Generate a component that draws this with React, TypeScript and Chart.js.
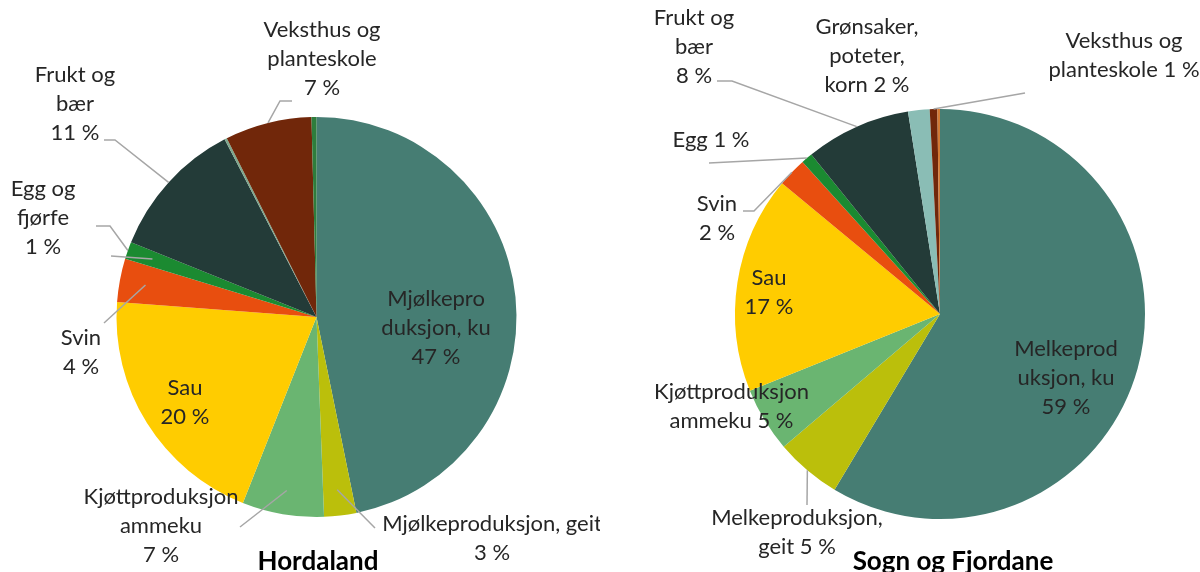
import React, { useEffect, useRef } from 'react';
import { Chart, registerables } from 'chart.js';

Chart.register(...registerables);

// ---------- Data ----------
const hordCategories = [
  'Mjølkeproduksjon, ku',
  'Mjølkeproduksjon, geit',
  'Kjøttproduksjon ammeku',
  'Sau',
  'Svin',
  'Egg og fjørfe',
  'Frukt og bær',
  'Grønsaker, poteter, korn',
  'Veksthus og planteskole',
  'Annet',
];
const hordValues = [46.8, 2.6, 6.6, 20.2, 3.5, 1.4, 11.3, 0.2, 7.0, 0.4];
const hordColors = ['#467D73', '#BBBF0B', '#6AB571', '#FFCC00', '#E84E0F', '#1B8A31', '#233B38', '#7FA88E', '#71270A', '#2E7D3C'];

const sfCategories = [
  'Melkeproduksjon, ku',
  'Melkeproduksjon, geit',
  'Kjøttproduksjon ammeku',
  'Sau',
  'Svin',
  'Egg',
  'Frukt og bær',
  'Grønsaker, poteter, korn',
  'Veksthus og planteskole',
  'Annet',
];
const sfValues = [58.6, 5.2, 5.1, 17.1, 2.3, 0.9, 8.3, 1.7, 0.6, 0.2];
const sfColors = ['#467D73', '#BBBF0B', '#6AB571', '#FFCC00', '#E84E0F', '#1B8A31', '#233B38', '#8ABDB5', '#71270A', '#D27A35'];

// label text lines per slice ({p} = rounded percentage)
const hordLabelLines = [
  ['Mjølkepro', 'duksjon, ku', '{p}'],
  ['Mjølkeproduksjon, geit', '{p}'],
  ['Kjøttproduksjon', 'ammeku', '{p}'],
  ['Sau', '{p}'],
  ['Svin', '{p}'],
  ['Egg og', 'fjørfe', '{p}'],
  ['Frukt og', 'bær', '{p}'],
  null,
  ['Veksthus og', 'planteskole', '{p}'],
  null,
];
const sfLabelLines = [
  ['Melkeprod', 'uksjon, ku', '{p}'],
  ['Melkeproduksjon,', 'geit {p}'],
  ['Kjøttproduksjon', 'ammeku {p}'],
  ['Sau', '{p}'],
  ['Svin', '{p}'],
  ['Egg {p}'],
  ['Frukt og', 'bær', '{p}'],
  ['Grønsaker,', 'poteter,', 'korn {p}'],
  ['Veksthus og', 'planteskole {p}'],
  null,
];

// ---------- Layout (label block centre offsets from pie centre, leader paths) ----------
type Leader = { pts: [number, number][]; f: number };
type LabelLayout = { dx: number; dy: number; leaders?: Leader[] } | null;

const hordLayout: LabelLayout[] = [
  { dx: 119.5, dy: 11 },
  { dx: 175.5, dy: 221, leaders: [{ pts: [[58.5, 211]], f: 0.87 }] },
  { dx: -155.5, dy: 209, leaders: [{ pts: [[-76.5, 210]], f: 0.88 }] },
  { dx: -131.5, dy: 85.5 },
  { dx: -235.5, dy: 35, leaders: [{ pts: [[-212.5, 6]], f: 0.87 }] },
  {
    dx: -273.5, dy: -99,
    leaders: [
      { pts: [[-220.5, -91], [-206.5, -91]], f: 1.0 },
      { pts: [[-205.5, -61]], f: 0.87 },
    ],
  },
  { dx: -241.5, dy: -213, leaders: [{ pts: [[-212.5, -177], [-201.5, -177]], f: 1.0 }] },
  null,
  { dx: 5.5, dy: -258, leaders: [{ pts: [[-24.5, -216], [-36.5, -216]], f: 1.0 }] },
  null,
];
const sfLayout: LabelLayout[] = [
  { dx: 126, dy: 64 },
  { dx: -143, dy: 218.5, leaders: [{ pts: [[-133, 191]], f: 1.0 }] },
  { dx: -208.5, dy: 92 },
  { dx: -171, dy: -21.5 },
  { dx: -223, dy: -96, leaders: [{ pts: [[-197, -103], [-186, -103]], f: 1.0 }] },
  { dx: -229, dy: -174, leaders: [{ pts: [[-231, -151]], f: 1.0 }] },
  { dx: -246, dy: -267, leaders: [{ pts: [[-223, -233], [-208, -233]], f: 1.0 }] },
  { dx: -73, dy: -258 },
  { dx: 184, dy: -259, leaders: [{ pts: [[85, -221]], f: 1.0 }] },
  null,
];

const LABEL_FONT = '22px Lato';
const TITLE_FONT = 'bold 26px Lato';
const LINE_H = 29;

const sliceLabelPlugin = {
  id: 'sliceLabels',
  afterDatasetsDraw(chart: any, _args: any, opts: any) {
    const { ctx } = chart;
    const meta = chart.getDatasetMeta(0);
    const values: number[] = chart.data.datasets[0].data;
    const arcs = meta.data;
    if (!arcs.length) return;
    const cx = arcs[0].x;
    const cy = arcs[0].y;
    ctx.save();
    // leaders
    ctx.strokeStyle = '#A6A6A6';
    ctx.lineWidth = 1.5;
    (opts.layout as LabelLayout[]).forEach((lay, i) => {
      if (!lay || !lay.leaders) return;
      const arc = arcs[i];
      const mid = (arc.startAngle + arc.endAngle) / 2;
      lay.leaders.forEach((ld) => {
        ctx.beginPath();
        ld.pts.forEach(([px, py], k) => {
          if (k === 0) ctx.moveTo(cx + px, cy + py);
          else ctx.lineTo(cx + px, cy + py);
        });
        ctx.lineTo(cx + Math.cos(mid) * arc.outerRadius * ld.f, cy + Math.sin(mid) * arc.outerRadius * ld.f);
        ctx.stroke();
      });
    });
    // labels
    ctx.fillStyle = '#262626';
    ctx.font = LABEL_FONT;
    ctx.textAlign = 'center';
    ctx.textBaseline = 'middle';
    (opts.layout as LabelLayout[]).forEach((lay, i) => {
      const lines = opts.lines[i];
      if (!lay || !lines) return;
      const pct = Math.round(values[i]) + ' %';
      const n = lines.length;
      lines.forEach((t: string, k: number) => {
        ctx.fillText(t.replace('{p}', pct), cx + lay.dx, cy + lay.dy + (k - (n - 1) / 2) * LINE_H);
      });
    });
    // title
    ctx.fillStyle = '#000';
    ctx.font = TITLE_FONT;
    ctx.textBaseline = 'alphabetic';
    ctx.fillText(opts.title, cx + opts.titleDx, cy + opts.titleDy);
    ctx.restore();
  },
};

function PieChart(props: {
  categories: string[];
  values: number[];
  colors: string[];
  lines: (string[] | null)[];
  layout: LabelLayout[];
  padding: { left: number; right: number; top: number; bottom: number };
  title: string;
  titleDx: number;
  titleDy: number;
  left: number;
}) {
  const ref = useRef<HTMLCanvasElement>(null);
  useEffect(() => {
    if (!ref.current) return;
    const chart = new Chart(ref.current, {
      type: 'pie',
      data: {
        labels: props.categories,
        datasets: [
          {
            data: props.values,
            backgroundColor: props.colors,
            borderWidth: 0,
          },
        ],
      },
      options: {
        animation: false,
        responsive: false,
        layout: { padding: props.padding },
        plugins: {
          legend: { display: false },
          tooltip: { enabled: false },
          // @ts-ignore
          sliceLabels: {
            layout: props.layout,
            lines: props.lines,
            title: props.title,
            titleDx: props.titleDx,
            titleDy: props.titleDy,
          },
        },
      },
      plugins: [sliceLabelPlugin],
    } as any);
    return () => chart.destroy();
  }, []);
  return (
    <canvas
      ref={ref}
      width={600}
      height={572}
      style={{ position: 'absolute', left: props.left, top: 0, width: 600, height: 572 }}
    />
  );
}

export default function App() {
  return (
    <div style={{ position: 'fixed', left: 0, top: 0, width: 1200, height: 572, background: '#fff', overflow: 'hidden' }}>
      <PieChart
        categories={hordCategories}
        values={hordValues}
        colors={hordColors}
        lines={hordLabelLines}
        layout={hordLayout}
        padding={{ left: 116.5, top: 117, right: 83.5, bottom: 55 }}
        title="Hordaland"
        titleDx={1.5}
        titleDy={253}
        left={0}
      />
      <PieChart
        categories={sfCategories}
        values={sfValues}
        colors={sfColors}
        lines={sfLabelLines}
        layout={sfLayout}
        padding={{ left: 135, top: 109, right: 55, bottom: 53 }}
        title="Sogn og Fjordane"
        titleDx={13}
        titleDy={256}
        left={600}
      />
    </div>
  );
}
